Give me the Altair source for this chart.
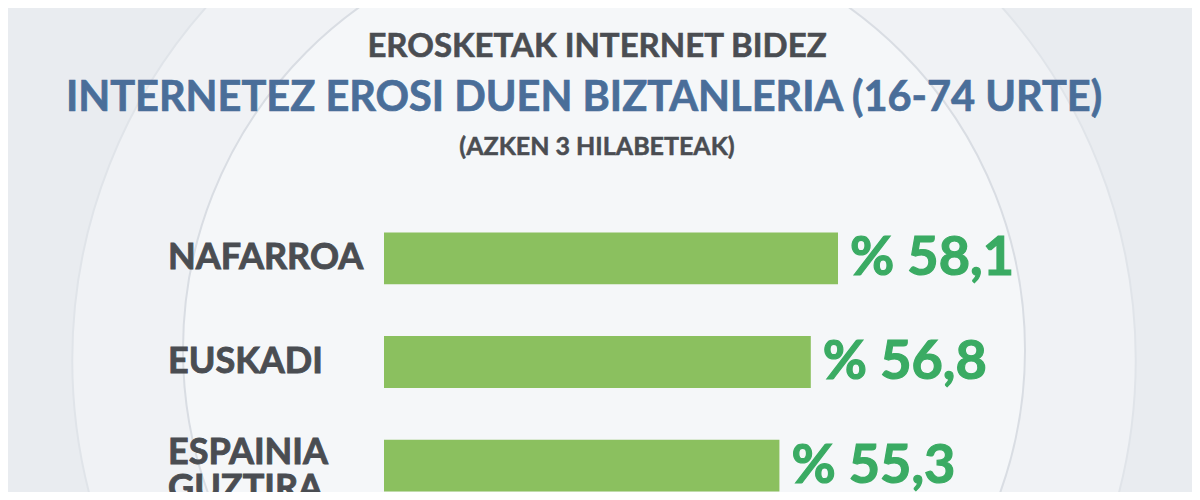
import altair as alt
import pandas as pd

# ---- data ----
categories = ["NAFARROA", "EUSKADI", "ESPAINIA GUZTIRA"]
category_lines = ["NAFARROA", "EUSKADI", "ESPAINIA\nGUZTIRA"]
values = [58.1, 56.8, 55.3]

title_top = "EROSKETAK INTERNET BIDEZ"
title_main = "INTERNETEZ EROSI DUEN BIZTANLERIA (16-74 URTE)"
title_sub = "(AZKEN 3 HILABETEAK)"

df = pd.DataFrame({
    "region": categories,
    "label": category_lines,
    "value": values,
})
df["value_text"] = ["% " + f"{v:.1f}".replace(".", ",") for v in df["value"]]
df["multi"] = ["\n" in s for s in df["label"]]

FONT = "Lato"
BAR = "#8bc05f"
VAL = "#3aab63"
DARK = "#4a4d52"
BLUE = "#4a6e99"

W, H = 1184, 484
X_MIN = 36.4

x_scale = alt.Scale(domain=[X_MIN, 58.1], range=[376, 830], zero=False, nice=False)
y_scale = alt.Scale(domain=categories, range=[224.6, 483.4], paddingInner=0.5, paddingOuter=0)
Y = alt.Y("region:N", scale=y_scale, axis=None, sort=categories)

base = alt.Chart(df)
one = pd.DataFrame({"d": [1]})

# decorative background rings
ring_outer = alt.Chart(one).mark_point(
    shape="circle", filled=True, fill="#f0f2f5", stroke="#e0e4e9", strokeWidth=2, opacity=1,
).encode(x=alt.value(596), y=alt.value(352), size=alt.value(1131000))

disc = alt.Chart(one).mark_point(
    shape="circle", filled=True, fill="#f5f7f9", stroke="#d9dde3", strokeWidth=2, opacity=1,
).encode(x=alt.value(596), y=alt.value(342), size=alt.value(709000))

bars = base.mark_bar(color=BAR).encode(
    y=Y,
    x=alt.X("value:Q", scale=x_scale, axis=None),
    x2=alt.datum(X_MIN),
)

vals = base.mark_text(
    align="left", baseline="middle", dx=12, dy=1,
    font=FONT, fontWeight="bold", fontSize=54, color=VAL,
    stroke=VAL, strokeWidth=1.2,
).encode(
    y=Y,
    x=alt.X("value:Q", scale=x_scale, axis=None),
    text="value_text:N",
)

cats_single = base.transform_filter("!datum.multi").mark_text(
    align="left", baseline="middle",
    font=FONT, fontWeight="bold", fontSize=36, color=DARK,
    stroke=DARK, strokeWidth=0.9,
).encode(y=Y, x=alt.value(160), text="label:N")

cats_multi = base.transform_filter("datum.multi").mark_text(
    align="left", baseline="middle", lineBreak="\n", lineHeight=36, dy=-13,
    font=FONT, fontWeight="bold", fontSize=36, color=DARK,
    stroke=DARK, strokeWidth=0.9,
).encode(y=Y, x=alt.value(160), text="label:N")

t1 = alt.Chart(pd.DataFrame({"t": [title_top]})).mark_text(
    align="center", baseline="alphabetic",
    font=FONT, fontWeight="bold", fontSize=33, color=DARK,
    stroke=DARK, strokeWidth=0.6,
).encode(x=alt.value(589), y=alt.value(49), text="t:N")

t2 = alt.Chart(pd.DataFrame({"t": [title_main]})).mark_text(
    align="center", baseline="alphabetic",
    font=FONT, fontWeight="bold", fontSize=41.5, color=BLUE,
    stroke=BLUE, strokeWidth=0.7,
).encode(x=alt.value(576), y=alt.value(103), text="t:N")

t3 = alt.Chart(pd.DataFrame({"t": [title_sub]})).mark_text(
    align="center", baseline="alphabetic",
    font=FONT, fontWeight="bold", fontSize=25, color=DARK,
    stroke=DARK, strokeWidth=0.5,
).encode(x=alt.value(589), y=alt.value(147), text="t:N")

chart = alt.layer(ring_outer, disc, bars, vals, cats_single, cats_multi, t1, t2, t3).properties(
    width=W, height=H,
    autosize=alt.AutoSizeParams(type="none"),
    padding=0,
    background="#e9ecf0",
).configure_view(stroke=None, clip=False)

chart.save("out.html", embed_options={"renderer": "svg", "actions": False})
